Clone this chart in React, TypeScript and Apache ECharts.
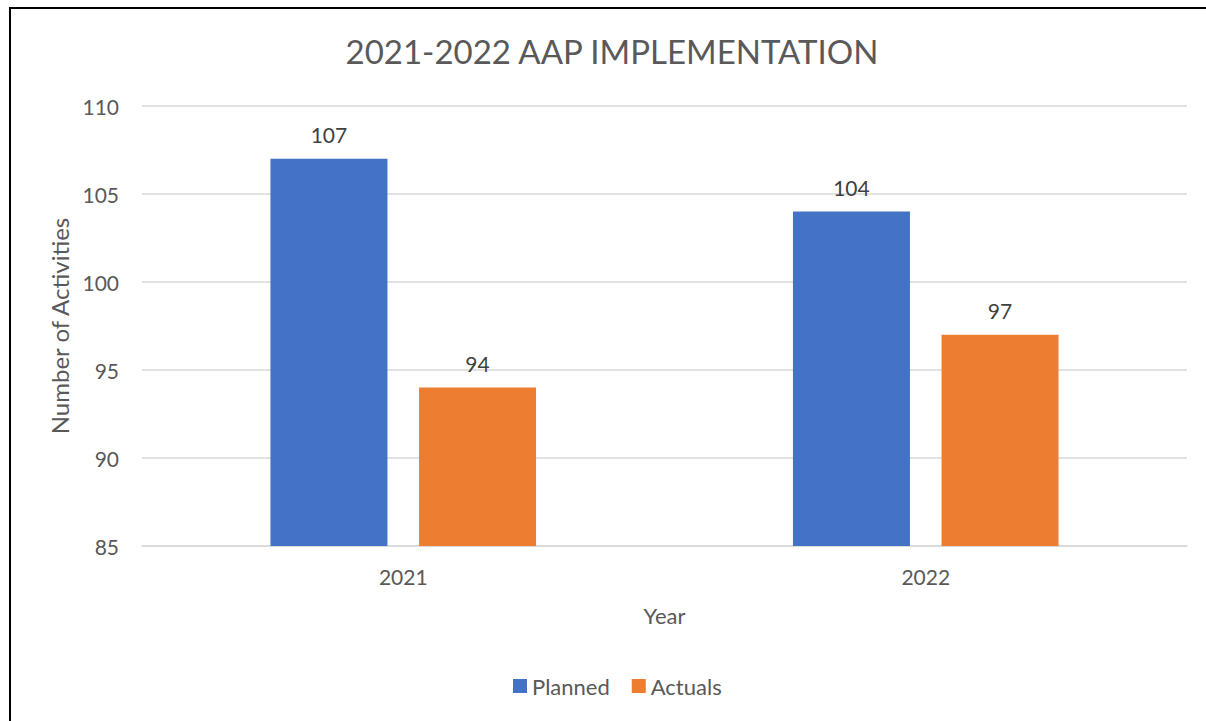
import React, { useEffect, useRef } from "react";
import * as echarts from "echarts";

const categories = ["2021", "2022"];
const planned = [107, 104];
const actuals = [94, 97];
const yTicks = { min: 85, max: 110, interval: 5 };
const titleText = "2021-2022 AAP IMPLEMENTATION";
const seriesNames = ["Planned", "Actuals"];
const xName = "Year";
const yName = "Number of Activities";

const FONT = "Lato";
const TXT = "#595959";

export default function App() {
  const ref = useRef<HTMLDivElement>(null);
  useEffect(() => {
    document.body.style.margin = "0";
    const chart = echarts.init(ref.current!, null, { renderer: "svg" });
    chart.setOption({
      animation: false,
      backgroundColor: "#ffffff",
      textStyle: { fontFamily: FONT },
      title: {
        text: titleText,
        left: 607,
        textAlign: "center",
        top: 29,
        textStyle: { fontFamily: FONT, fontSize: 33, fontWeight: "normal", color: TXT },
      },
      legend: {
        data: seriesNames,
        bottom: 19,
        left: 508,
        icon: "rect",
        itemWidth: 14,
        itemHeight: 14,
        itemGap: 22,
        textStyle: { fontFamily: FONT, fontSize: 22, color: TXT },
      },
      grid: { left: 142, right: 19, top: 106, bottom: 175 },
      xAxis: {
        type: "category",
        data: categories,
        name: xName,
        nameLocation: "middle",
        nameGap: 58,
        nameTextStyle: { fontFamily: FONT, fontSize: 22, color: TXT },
        axisLine: { lineStyle: { color: "#D9D9D9", width: 1.5 } },
        axisTick: { show: false },
        axisLabel: { fontFamily: FONT, fontSize: 21, color: TXT, margin: 20 },
      },
      yAxis: {
        type: "value",
        min: yTicks.min,
        max: yTicks.max,
        interval: yTicks.interval,
        name: yName,
        nameLocation: "middle",
        nameRotate: 90,
        nameGap: 68,
        nameTextStyle: { fontFamily: FONT, fontSize: 24, color: TXT },
        axisLine: { show: false },
        axisTick: { show: false },
        axisLabel: { fontFamily: FONT, fontSize: 21, color: TXT, margin: 23 },
        splitLine: { lineStyle: { color: "#D9D9D9", width: 1.5 } },
      },
      series: [
        {
          name: seriesNames[0],
          type: "bar",
          data: planned,
          barWidth: 117,
          barGap: "27%",
          itemStyle: { color: "#4472C4" },
          label: { show: true, position: "top", distance: 14, fontFamily: FONT, fontSize: 21, color: "#404040" },
        },
        {
          name: seriesNames[1],
          type: "bar",
          data: actuals,
          barWidth: 117,
          barGap: "27%",
          itemStyle: { color: "#ED7D31" },
          label: { show: true, position: "top", distance: 14, fontFamily: FONT, fontSize: 21, color: "#404040" },
        },
      ],
      graphic: [
        { type: "line", shape: { x1: 10, y1: 8, x2: 1206, y2: 8 }, style: { stroke: "#000", lineWidth: 2 } },
        { type: "line", shape: { x1: 10, y1: 7, x2: 10, y2: 721 }, style: { stroke: "#000", lineWidth: 2 } },
      ],
    });
    return () => chart.dispose();
  }, []);
  return <div ref={ref} style={{ position: "absolute", left: 0, top: 0, width: 1206, height: 721 }} />;
}
